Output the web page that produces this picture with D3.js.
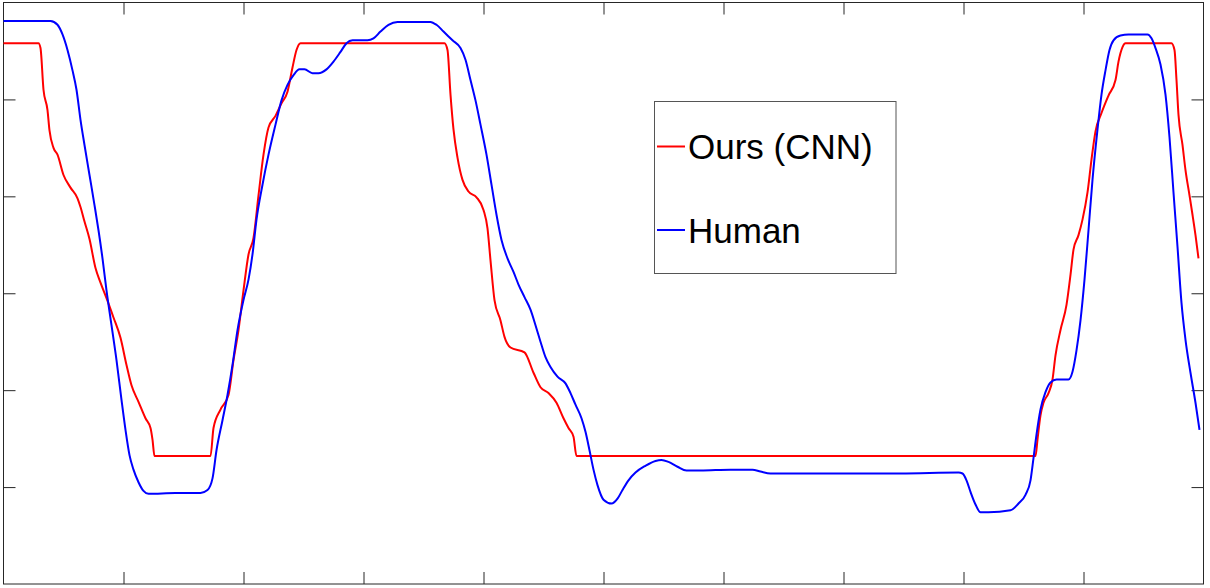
<!DOCTYPE html>
<html>
<head>
<meta charset="utf-8">
<script src="https://cdn.jsdelivr.net/npm/d3@7"></script>
<style>
  body { margin: 0; background: #fff; }
  svg { display: block; }
</style>
</head>
<body>
<div id="chart"></div>
<script>
// frame index (x) and score (y)
var oursX = [0, 35, 37, 40, 44, 46, 50, 54, 60, 67, 74, 77, 81, 86, 92, 97, 103, 110, 117, 123,
  128, 135, 142, 147, 149, 151, 207, 210, 217, 225, 230, 235, 240, 245, 250, 255, 260, 265, 272, 278,
  284, 289, 293, 297, 441, 444, 447, 450, 454, 459, 465, 473, 480, 484, 487, 491, 497, 501, 507, 521,
  530, 537, 545, 553, 560, 565, 570, 573, 1032, 1034, 1037, 1040, 1045, 1049, 1052, 1057, 1063, 1067, 1070, 1075,
  1079, 1084, 1088, 1092, 1098, 1105, 1112, 1115, 1119, 1122, 1168, 1171, 1173, 1175, 1179, 1182, 1186, 1189, 1192, 1195];
var oursY = [5.58, 5.58, 5.53, 5.10, 4.89, 4.68, 4.50, 4.43, 4.22, 4.09, 3.98, 3.89, 3.74, 3.56, 3.26, 3.11, 2.95, 2.75, 2.54, 2.26,
  2.05, 1.88, 1.71, 1.61, 1.49, 1.32, 1.32, 1.61, 1.80, 1.95, 2.31, 2.62, 3.03, 3.40, 3.57, 4.01, 4.43, 4.71, 4.83, 4.96,
  5.08, 5.33, 5.51, 5.58, 5.58, 5.51, 5.05, 4.69, 4.40, 4.17, 4.05, 3.99, 3.86, 3.67, 3.34, 2.93, 2.72, 2.55, 2.44, 2.39,
  2.18, 2.03, 1.97, 1.87, 1.71, 1.61, 1.52, 1.32, 1.32, 1.49, 1.74, 1.87, 1.97, 2.11, 2.36, 2.62, 2.88, 3.19, 3.45, 3.60,
  3.76, 4.04, 4.38, 4.67, 4.86, 5.04, 5.20, 5.39, 5.54, 5.58, 5.58, 5.51, 5.20, 4.84, 4.53, 4.27, 4.01, 3.81, 3.60, 3.36];

var humanX = [0, 47, 54, 59, 64, 69, 73, 77, 81, 86, 91, 95, 99, 103, 108, 113, 118, 122, 126, 130,
  135, 140, 145, 172, 197, 204, 209, 213, 219, 224, 229, 234, 240, 245, 249, 253, 259, 265, 272, 278,
  284, 290, 296, 301, 309, 315, 323, 330, 337, 343, 349, 364, 370, 377, 385, 394, 427, 433, 440, 449,
  457, 462, 467, 472, 477, 483, 488, 493, 498, 504, 510, 515, 521, 527, 532, 537, 542, 547, 554, 562,
  567, 572, 578, 582, 586, 590, 594, 600, 608, 614, 619, 625, 632, 642, 652, 658, 665, 674, 683, 697,
  727, 749, 757, 767, 797, 897, 955, 959, 963, 967, 972, 977, 985, 1007, 1015, 1022, 1027, 1030, 1033, 1037,
  1042, 1047, 1053, 1065, 1069, 1073, 1077, 1081, 1085, 1089, 1094, 1098, 1102, 1106, 1110, 1117, 1125, 1144, 1148, 1152,
  1157, 1162, 1166, 1170, 1174, 1178, 1182, 1187, 1192, 1196];
var humanY = [5.81, 5.81, 5.77, 5.67, 5.51, 5.30, 5.10, 4.79, 4.53, 4.22, 3.91, 3.65, 3.36, 3.03, 2.67, 2.31, 1.90, 1.59, 1.33, 1.18,
  1.05, 0.96, 0.93, 0.94, 0.94, 0.97, 1.09, 1.38, 1.69, 1.95, 2.26, 2.62, 2.93, 3.14, 3.40, 3.76, 4.12, 4.43, 4.74, 4.99,
  5.15, 5.25, 5.31, 5.31, 5.27, 5.27, 5.31, 5.39, 5.49, 5.58, 5.61, 5.61, 5.63, 5.70, 5.77, 5.80, 5.80, 5.77, 5.70, 5.61,
  5.53, 5.41, 5.20, 4.99, 4.74, 4.43, 4.12, 3.81, 3.55, 3.36, 3.22, 3.09, 2.96, 2.83, 2.67, 2.50, 2.34, 2.24, 2.14, 2.07,
  1.97, 1.85, 1.71, 1.57, 1.38, 1.18, 1.02, 0.87, 0.83, 0.88, 0.97, 1.07, 1.15, 1.22, 1.27, 1.28, 1.26, 1.21, 1.17, 1.17,
  1.18, 1.18, 1.16, 1.14, 1.14, 1.14, 1.15, 1.14, 1.07, 0.95, 0.82, 0.74, 0.74, 0.76, 0.83, 0.92, 1.07, 1.30, 1.54, 1.80,
  1.98, 2.08, 2.11, 2.11, 2.19, 2.41, 2.72, 3.14, 3.65, 4.17, 4.69, 5.05, 5.30, 5.51, 5.61, 5.66, 5.67, 5.67, 5.63, 5.53,
  5.36, 5.05, 4.61, 4.04, 3.48, 2.90, 2.52, 2.18, 1.87, 1.59];

var seriesNames = ['Ours (CNN)', 'Human'];
var seriesColors = ['#ff0000', '#0000ff'];
var xTicks = [120, 240, 360, 480, 600, 720, 840, 960, 1080];
var yTicks = [1, 2, 3, 4, 5];

var W = 1210, H = 588;
// plot box edges (not named top/left: window.top is read-only)
var boxL = 3.5, boxR = 1203.5, boxT = 2.5, boxB = 584;

var svg = d3.select('#chart').append('svg')
  .attr('width', W)
  .attr('height', H);

var x = d3.scaleLinear().domain([0, 1200]).range([boxL, boxR]);
var y = d3.scaleLinear().domain([0, 6]).range([boxB, boxT]);

// frame
svg.append('rect')
  .attr('x', boxL).attr('y', boxT)
  .attr('width', boxR - boxL).attr('height', boxB - boxT)
  .attr('fill', 'none')
  .attr('stroke', '#262626')
  .attr('stroke-width', 1);

// ticks on all four sides, pointing inward, no labels
function ticks(axis, tx, ty) {
  var g = svg.append('g')
    .attr('transform', 'translate(' + tx + ',' + ty + ')')
    .call(axis.tickSizeInner(-12).tickSizeOuter(0).tickFormat(''));
  g.select('.domain').remove();
  g.selectAll('line').attr('stroke', '#262626');
}
ticks(d3.axisBottom(x).tickValues(xTicks), 0, boxB);
ticks(d3.axisTop(x).tickValues(xTicks), 0, boxT);
ticks(d3.axisLeft(y).tickValues(yTicks), boxL, 0);
ticks(d3.axisRight(y).tickValues(yTicks), boxR, 0);

var line = d3.line()
  .x(function(d) { return x(d[0]); })
  .y(function(d) { return y(d[1]); })
  .curve(d3.curveMonotoneX);

var series = [d3.zip(oursX, oursY), d3.zip(humanX, humanY)];

// red drawn first, blue on top
svg.selectAll('path.series')
  .data(series)
  .enter()
  .append('path')
    .attr('class', 'series')
    .attr('d', line)
    .attr('fill', 'none')
    .attr('stroke', function(d, i) { return seriesColors[i]; })
    .attr('stroke-width', 2)
    .attr('stroke-linejoin', 'round');

// legend
var legend = svg.append('g');
legend.append('rect')
  .attr('x', 654.5).attr('y', 101.5)
  .attr('width', 241.5).attr('height', 172)
  .attr('fill', '#fff')
  .attr('stroke', '#555')
  .attr('stroke-width', 1);

var rowY = [146.5, 230];
seriesNames.forEach(function(name, i) {
  legend.append('line')
    .attr('x1', 657).attr('x2', 685)
    .attr('y1', rowY[i]).attr('y2', rowY[i])
    .attr('stroke', seriesColors[i])
    .attr('stroke-width', 2);
  legend.append('text')
    .attr('x', 688)
    .attr('y', rowY[i] + 12.5)
    .attr('font-family', 'Liberation Sans, Arial, Helvetica, sans-serif')
    .attr('font-size', 35)
    .attr('fill', '#000')
    .text(name);
});
</script>
</body>
</html>
